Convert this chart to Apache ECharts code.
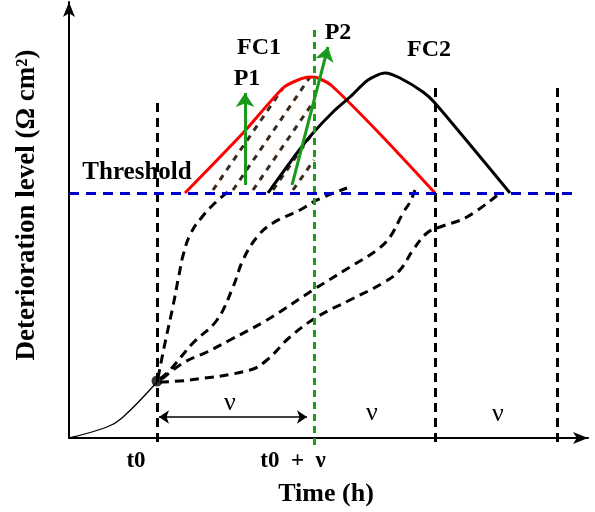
<!DOCTYPE html>
<html><head><meta charset="utf-8">
<script src="https://cdn.jsdelivr.net/npm/echarts@6/dist/echarts.min.js"></script>
<style>html,body{margin:0;padding:0;background:#fff}#c{width:595px;height:512px}</style>
</head><body><div id="c"></div>
<script>
// schematic data (time units, deterioration units)
const initialCurve = [[0,0],[38,11],[53,20],[88,56]];
const fc1Curve = [[116,245],[174,305],[214,350],[229,358],[241,361],[249,360],[263,352],[311,304],[366,245]];
const fc2Curve = [[199,245],[228,285],[244,305],[266,328],[281,341],[299,358],[316,365],[331,360],[354,346],[366,335],[441,245]];
const pathA = [[89,60],[96,95],[104,132],[110,163],[115,186],[122,205],[133,221],[146,235],[159,246]];
const pathB = [[91,59],[101,68],[124,95],[148,118],[164,151],[174,178],[188,201],[204,215],[231,228],[248,238],[278,250]];
const pathC = [[93,59],[114,75],[138,86],[161,98],[198,118],[244,148],[281,171],[308,188],[321,201],[334,225],[341,236],[346,248]];
const pathD = [[91,56],[121,58],[181,68],[198,78],[221,101],[248,121],[281,138],[314,155],[331,168],[344,188],[358,205],[371,211],[398,221],[431,245]];
const startPoint = [88,57];
const thresholdLine = [[0,245],[504,245]];
const verticalBlack = [[[88,-4],[88,338]], [[366,-4],[366,353]], [[488,-4],[488,353]]];
const verticalGreen = [[245,-7],[245,410]];
const hatchLines = [[[144,248],[214,350]], [[164,248],[241,361]], [[184,248],[245,337]], [[204,248],[245,307]], [[224,248],[245,278]]];
const p1Arrow = [[176,253],[176,345]];
const p2Arrow = [[223,253],[259,391]];
const spanArrow = [[90,21],[238,21]];
const tickLabels = ['t0', 't0  +  \u03bd'];
const curveLabels = ['FC1', 'FC2', 'P1', 'P2', 'Threshold'];
const spanLabel = '\u03bd';
const xTitle = 'Time (h)';
const yTitle = 'Deterioration level (\u03a9 cm\u00b2)';

const chart = echarts.init(document.getElementById('c'), null, {renderer: 'canvas'});
const serif = '"Liberation Serif", "DejaVu Serif", serif';
const dash = [9, 6];
function txt(s, x, y, size, bold, extra) {
  return Object.assign({type: 'text', x: x, y: y, z: 100,
    style: {text: s, fill: '#000', font: (bold ? 'bold ' : '') + size + 'px ' + serif, align: 'center', verticalAlign: 'middle'}}, extra || {});
}
const axisCommon = {
  type: 'value', splitLine: {show: false}, axisTick: {show: false}, axisLabel: {show: false},
  axisLine: {show: true, symbol: ['none', 'arrow'], symbolSize: [9, 15], lineStyle: {color: '#000', width: 2}}
};
const option = {
  animation: false,
  backgroundColor: '#fff',
  grid: {left: 69, right: 7, top: 2, bottom: 74},
  xAxis: Object.assign({}, axisCommon, {min: 0, max: 519}),
  yAxis: Object.assign({}, axisCommon, {min: 0, max: 436}),
  series: [
    {type: 'lines', coordinateSystem: 'cartesian2d', clip: false, z: 2,
     lineStyle: {color: '#3b2a1c', width: 3, type: [6, 6], opacity: 1},
     data: hatchLines.map(c => ({coords: c}))},
    {type: 'lines', coordinateSystem: 'cartesian2d', clip: false, z: 3,
     lineStyle: {color: '#000', width: 3, type: dash, opacity: 1},
     data: verticalBlack.map(c => ({coords: c}))},
    {type: 'line', data: initialCurve, smooth: 0.4, symbol: 'none', clip: false, z: 4,
     lineStyle: {color: '#000', width: 1.3}},
    {type: 'line', data: pathA, smooth: 0.5, symbol: 'none', z: 4, lineStyle: {color: '#000', width: 3, type: dash}},
    {type: 'line', data: pathB, smooth: 0.4, symbol: 'none', z: 4, lineStyle: {color: '#000', width: 3, type: dash}},
    {type: 'line', data: pathC, smooth: 0.4, symbol: 'none', z: 4, lineStyle: {color: '#000', width: 3, type: dash}},
    {type: 'line', data: pathD, smooth: 0.4, symbol: 'none', z: 4, lineStyle: {color: '#000', width: 3, type: dash}},
    {type: 'line', data: fc1Curve, smooth: 0.25, symbol: 'none', z: 5, lineStyle: {color: '#ff0000', width: 3}},
    {type: 'line', data: fc2Curve, smooth: 0.25, symbol: 'none', z: 5, lineStyle: {color: '#000', width: 3}},
    {type: 'lines', coordinateSystem: 'cartesian2d', clip: false, z: 6,
     lineStyle: {color: '#1a9e1a', width: 3, type: [7, 5], opacity: 1},
     data: [{coords: verticalGreen}]},
    {type: 'lines', coordinateSystem: 'cartesian2d', clip: false, z: 7,
     lineStyle: {color: '#0000cc', width: 3, type: [10, 7], opacity: 1},
     data: [{coords: thresholdLine}]},
    {type: 'lines', coordinateSystem: 'cartesian2d', clip: false, z: 8,
     symbol: ['none', 'arrow'], symbolSize: 14,
     lineStyle: {color: '#1a9a1a', width: 3, opacity: 1},
     data: [{coords: p1Arrow}, {coords: p2Arrow}]},
    {type: 'lines', coordinateSystem: 'cartesian2d', clip: false, z: 8,
     symbol: ['arrow', 'arrow'], symbolSize: 10,
     lineStyle: {color: '#000', width: 1.5, opacity: 1},
     data: [{coords: spanArrow}]},
    {type: 'scatter', data: [startPoint], symbol: 'circle', symbolSize: 11, z: 9,
     itemStyle: {color: '#000'}}
  ],
  graphic: [
    txt(curveLabels[4], 137, 173, 25, true),
    txt(curveLabels[0], 259, 48, 24, true),
    txt(curveLabels[2], 247, 79, 24, true),
    txt(curveLabels[3], 338, 33, 24, true),
    txt(curveLabels[1], 429, 50, 24, true),
    txt(spanLabel, 230, 403, 26, false),
    txt(spanLabel, 372, 413, 26, false),
    txt(spanLabel, 498, 414, 26, false),
    txt(tickLabels[0], 136, 461, 23, true),
    txt(tickLabels[1], 293, 461, 23, true),
    txt(xTitle, 326, 494, 26, true),
    txt(yTitle, 27, 205, 27, true, {rotation: Math.PI / 2})
  ]
};
chart.setOption(option);
</script></body></html>
